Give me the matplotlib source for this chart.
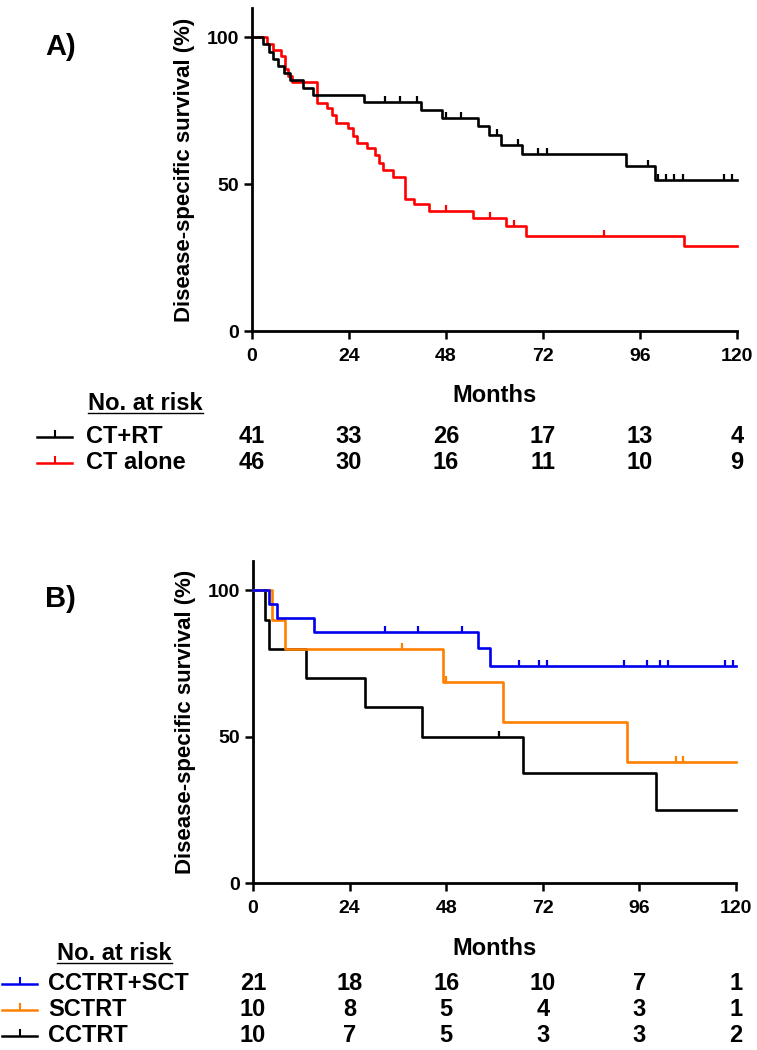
import matplotlib.pyplot as plt
import numpy as np
from matplotlib.lines import Line2D
from matplotlib.path import Path
from matplotlib import transforms

plt.rcParams['font.family'] = ['Liberation Sans', 'DejaVu Sans']
plt.rcParams['font.weight'] = 'bold'

W, H = 757, 1050

month_ticks = [0, 24, 48, 72, 96, 120]
surv_ticks = [0, 50, 100]

# ---- panel A: CT+RT vs CT alone (event times in months, survival % after each event)
a_rt_t = [2.8, 4.1, 5.3, 6.5, 7.8, 9.4, 12.7, 15.2, 27.8, 41.7, 47.1, 55.8, 58.6, 61.7, 66.9, 92.6, 99.8]
a_rt_s = [97.6, 95.1, 92.7, 90.2, 87.8, 85.4, 82.9, 80.5, 78.0, 75.3, 72.7, 69.8, 66.9, 63.5, 60.4, 56.1, 51.5]
a_rt_cens = [33.0, 36.7, 40.9, 47.9, 51.8, 60.7, 65.8, 70.8, 72.9, 97.9, 100.4, 102.5, 104.5, 106.6, 116.8, 118.8]

a_ct_t = [3.6, 5.3, 7.2, 8.2, 9.0, 9.8, 16.0, 18.5, 19.7, 20.9, 23.8, 25.0, 25.9, 28.4, 30.4, 31.3,
          32.5, 35.0, 37.9, 40.0, 43.9, 54.8, 62.8, 67.7, 106.8]
a_ct_s = [97.8, 95.7, 93.5, 89.1, 87.0, 84.8, 77.8, 75.9, 73.6, 71.0, 69.1, 66.4, 64.1, 62.2, 59.9, 57.3,
          54.8, 52.5, 45.1, 43.2, 40.8, 38.4, 35.6, 32.5, 29.1]
a_ct_cens = [48.0, 58.9, 64.9, 87.0]

risk_a_labels = ['CT+RT', 'CT alone']
risk_a_colors = ['black', '#ff0000']
risk_a = [[41, 33, 26, 17, 13, 4],
          [46, 30, 16, 11, 10, 9]]

# ---- panel B: CCTRT+SCT, SCTRT, CCTRT
b_sct_t = [4.0, 6.0, 15.2, 56.0, 59.0]
b_sct_s = [95.2, 90.5, 85.7, 80.4, 74.1]
b_sct_cens = [32.9, 41.0, 52.0, 66.1, 71.1, 73.1, 92.1, 98.0, 101.1, 103.2, 117.3, 119.2]

b_s_t = [4.6, 7.9, 47.1, 62.0, 93.0]
b_s_s = [90.0, 80.0, 68.6, 54.9, 41.2]
b_s_cens = [37.1, 47.9, 105.1, 106.9]

b_c_t = [3.0, 4.0, 13.1, 27.8, 41.9, 67.0, 100.0]
b_c_s = [90.0, 80.0, 70.0, 60.0, 50.0, 37.5, 25.0]
b_c_cens = [61.1]

risk_b_labels = ['CCTRT+SCT', 'SCTRT', 'CCTRT']
risk_b_colors = ['#0000f0', '#ff8000', 'black']
risk_b = [[21, 18, 16, 10, 7, 1],
          [10, 8, 5, 4, 3, 1],
          [10, 7, 5, 3, 3, 2]]

tick_up = Path([(0, 0), (0, 1)])


def fx(x):
    return x / W


def fy(y):
    return 1 - y / H


def km(ax, t, s, cens, color, z=2):
    tt = np.array([0] + list(t) + [120])
    ss = np.array([100] + list(s) + [s[-1]])
    ax.step(tt, ss, where='post', color=color, lw=1.9, zorder=z, clip_on=False)
    idx = np.searchsorted(tt, cens, side='right') - 1
    ax.plot(cens, ss[idx], ls='none', marker=tick_up, ms=9, mew=1.6, color=color, zorder=z, clip_on=False)


def style_axis(ax):
    for side in ['top', 'right']:
        ax.spines[side].set_visible(False)
    for side in ['left', 'bottom']:
        ax.spines[side].set_linewidth(2.0)
    ax.set_xlim(0, 120)
    ax.set_ylim(0, 110)
    ax.set_xticks(month_ticks)
    ax.set_yticks(surv_ticks)
    ax.tick_params(axis='both', direction='out', length=5.5, width=1.8, labelsize=14)
    ax.tick_params(axis='x', pad=6.5)
    ax.tick_params(axis='y', pad=4)
    ax.set_ylabel('Disease-specific survival (%)', fontsize=16, fontweight='bold', labelpad=8)


def legend_glyph(x0, x1, y, color):
    fig.add_artist(Line2D([fx(x0), fx(x1)], [fy(y), fy(y)], color=color, lw=1.8))
    xm = (x0 + x1) / 2
    fig.add_artist(Line2D([fx(xm), fx(xm)], [fy(y), fy(y - 6)], color=color, lw=1.5))


def risk_table(ax, head_x, head_y, label_x, glyph_x, rows_y, labels, colors, counts, months_y):
    trans = transforms.blended_transform_factory(ax.transData, fig.transFigure)
    ax.text(60, fy(months_y), 'Months', transform=trans, ha='center', va='baseline', fontsize=17)
    head = fig.text(fx(head_x), fy(head_y), 'No. at risk', ha='left', va='baseline', fontsize=17)
    bb = head.get_window_extent(fig.canvas.get_renderer())
    fig.add_artist(Line2D([fx(head_x), fx(head_x + bb.width)], [fy(head_y + 3), fy(head_y + 3)],
                          color='black', lw=1.0))
    for y, lab, col, row in zip(rows_y, labels, colors, counts):
        legend_glyph(glyph_x[0], glyph_x[1], y - 6, col)
        fig.text(fx(label_x), fy(y), lab, ha='left', va='baseline', fontsize=17)
        for m, n in zip(month_ticks, row):
            ax.text(m, fy(y), str(n), transform=trans, ha='center', va='baseline', fontsize=17)


fig = plt.figure(figsize=(W / 100, H / 100), dpi=100)

axA = fig.add_axes([fx(252), fy(331), 485 / W, (331 - 8) / H])
style_axis(axA)
km(axA, a_ct_t, a_ct_s, a_ct_cens, '#ff0000', z=2)
km(axA, a_rt_t, a_rt_s, a_rt_cens, 'black', z=3)
fig.text(fx(45), fy(55), 'A)', ha='left', va='baseline', fontsize=21)

axB = fig.add_axes([fx(253), fy(883), 483 / W, (883 - 561) / H])
style_axis(axB)
km(axB, b_c_t, b_c_s, b_c_cens, 'black', z=2)
km(axB, b_s_t, b_s_s, b_s_cens, '#ff8000', z=3)
km(axB, b_sct_t, b_sct_s, b_sct_cens, '#0000f0', z=4)
fig.text(fx(45), fy(607), 'B)', ha='left', va='baseline', fontsize=21)

risk_table(axA, 88, 410, 86, (37, 72), [443, 469], risk_a_labels, risk_a_colors, risk_a, 402)
risk_table(axB, 57, 960, 48, (2, 37), [990, 1016, 1042], risk_b_labels, risk_b_colors, risk_b, 955)

fig.savefig('out.png', dpi=100)
